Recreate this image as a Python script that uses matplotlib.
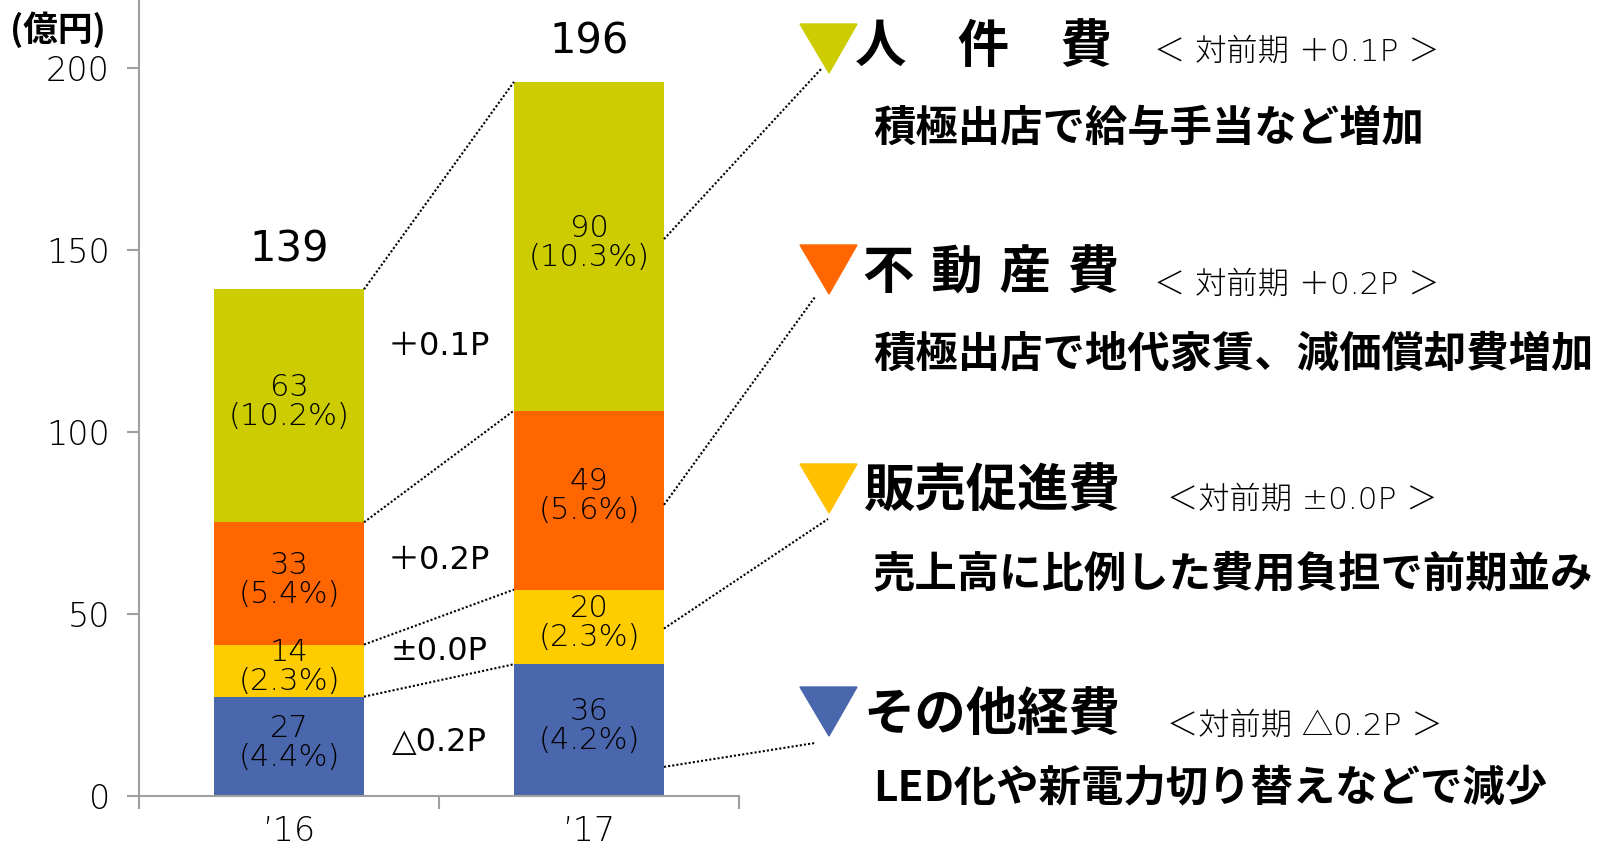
import matplotlib.pyplot as plt
from matplotlib.patches import Polygon
from matplotlib.lines import Line2D

plt.rcParams['font.family'] = ['Noto Sans CJK JP', 'DejaVu Sans']
NUM_FONT = ['DejaVu Sans', 'Noto Sans CJK JP']

W, H = 1615, 848

years = ['’16', '’17']
# bottom to top: その他経費, 販売促進費, 不動産費, 人件費
colors = ['#4A66AC', '#FFCC00', '#FF6600', '#CCCC00']
heights_16 = [27.3, 14.3, 33.6, 64.0]
heights_17 = [36.2, 20.5, 49.2, 90.3]
values_16 = [27, 14, 33, 63]
values_17 = [36, 20, 49, 90]
ratios_16 = ['4.4', '2.3', '5.4', '10.2']
ratios_17 = ['4.2', '2.3', '5.6', '10.3']
totals = [139, 196]
deltas = ['△0.2P', '±0.0P', '＋0.2P', '＋0.1P']
delta_y = [14.8, 39.8, 64.6, 123.4]

legend_titles = ['人\u3000件\u3000費', '不\u2004動\u2004産\u2004費', '販売促進費', 'その他経費']
legend_subs = ['＜ 対前期 ＋0.1P ＞', '＜ 対前期 ＋0.2P ＞', '＜対前期 ±0.0P ＞', '＜対前期 △0.2P ＞']
legend_descs = ['積極出店で給与手当など増加', '積極出店で地代家賃、減価償却費増加',
                '売上高に比例した費用負担で前期並み', 'LED化や新電力切り替えなどで減少']
legend_colors = ['#CCCC00', '#FF6600', '#FFC000', '#4A66AC']

fig = plt.figure(figsize=(W / 100, H / 100), dpi=100)
ax = fig.add_axes([139 / W, 52 / H, 600 / W, 796 / H])

x = [0, 1]
all_heights = [heights_16, heights_17]
all_values = [values_16, values_17]
all_ratios = [ratios_16, ratios_17]
tops = [[], []]
for i in range(2):
    bottom = 0
    for j in range(4):
        h = all_heights[i][j]
        ax.bar(x[i], h, bottom=bottom, width=0.5, color=colors[j], linewidth=0)
        ax.text(x[i], bottom + h / 2 + 1, f'{all_values[i][j]}\n({all_ratios[i][j]}%)',
                ha='center', va='center', fontsize=22, linespacing=1.0,
                family=NUM_FONT, fontweight='light')
        bottom += h
        tops[i].append(bottom)
    ax.text(x[i], bottom + 11, str(totals[i]), ha='center', va='center', fontsize=30,
            family=NUM_FONT)

# dotted lines between bars
for j in range(4):
    ax.plot([0.25, 0.75], [tops[0][j], tops[1][j]], color='black', linestyle=(0, (1, 1)), linewidth=1.5)

for j in range(4):
    ax.text(0.5, delta_y[j], deltas[j], ha='center', va='center', fontsize=23, family=NUM_FONT)

ax.set_xlim(-0.5, 1.5)
ax.set_ylim(0, 796 / 3.64)
ax.set_yticks([0, 50, 100, 150, 200])
ax.set_xticks([-0.5, 0.5, 1.5])
ax.set_xticklabels([])
ax.set_xticks(x, minor=True)
ax.set_xticklabels(years, minor=True)
ax.tick_params(axis='x', which='minor', length=0, pad=14, labelsize=24)
ax.tick_params(axis='x', which='major', length=9, width=1.5, color='#A0A0A0')
ax.tick_params(axis='y', length=9, width=1.5, color='#A0A0A0', pad=12, labelsize=24)
for lbl in ax.get_yticklabels() + ax.get_xticklabels(minor=True):
    lbl.set_family(NUM_FONT)
    lbl.set_fontweight('light')
for s in ['top', 'right']:
    ax.spines[s].set_visible(False)
for s in ['left', 'bottom']:
    ax.spines[s].set_color('#A0A0A0')
    ax.spines[s].set_linewidth(1.5)

fig.text(58 / W, 1 - 30 / H, '(億円)', ha='center', va='center', fontsize=25, fontweight='bold')

# legend block on the right
tri_top = [24, 245, 464, 687]
title_x = [855, 863, 863, 863]
title_y = [46, 273, 491, 714]
sub_x = [1154, 1154, 1167, 1167]
sub_y = [52, 285, 500, 726]
desc_y = [129, 355, 574, 788]
line_start = [153, 80, 46, 8]
line_end = [(822, 68), (815, 297), (828, 519), (815, 743)]

for k in range(4):
    t = tri_top[k]
    tri = Polygon([[800 / W, 1 - t / H], [857 / W, 1 - t / H], [829 / W, 1 - (t + 49) / H]],
                  closed=True, transform=fig.transFigure, color=legend_colors[k])
    fig.add_artist(tri)
    fig.text(title_x[k] / W, 1 - title_y[k] / H, legend_titles[k], ha='left', va='center',
             fontsize=37, fontweight='bold')
    fig.text(sub_x[k] / W, 1 - sub_y[k] / H, legend_subs[k], ha='left', va='center', fontsize=22.5,
             family=NUM_FONT, fontweight='light')
    fig.text(873 / W, 1 - desc_y[k] / H, legend_descs[k], ha='left', va='center',
             fontsize=30.5, fontweight='bold')
    # connector from the '17 bar to the legend marker
    sx, sy = ax.transData.transform((1.25, line_start[k]))
    ex, ey = line_end[k][0], H - line_end[k][1]
    fig.add_artist(Line2D([sx / W, ex / W], [sy / H, ey / H], transform=fig.transFigure,
                          color='black', linestyle=(0, (1, 1)), linewidth=1.5))

plt.savefig('out.png', dpi=100)
